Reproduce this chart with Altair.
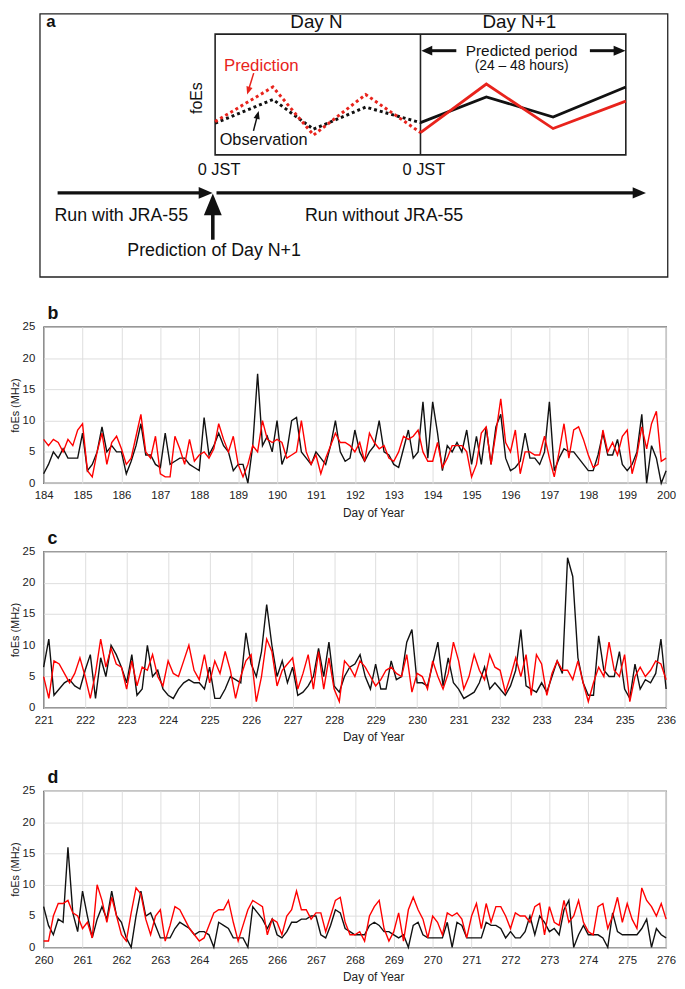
import altair as alt
import pandas as pd

FONT = "Liberation Sans"
RED = "#ff0000"
SRED = "#e8231c"

# ---------------- time-series data (3-hourly samples, MHz) ----------------
B_START, B_END = 184, 200
OBS_B = [
    1.5, 3, 5, 4, 5.5, 4, 4, 4,
    8, 2, 3, 5, 9, 5, 6, 5,
    5, 1.5, 3.5, 6, 9.5, 4.5, 4.5, 3,
    2.5, 8, 3, 3.5, 4, 4, 3, 2.5,
    2, 10.5, 4.5, 6, 8, 6, 5, 2,
    3, 3, 0, 6, 17.5, 6, 7.5, 5,
    10, 3, 5, 10, 10.5, 5, 4, 3,
    5, 4, 3, 6, 10, 5, 3.5, 4,
    8.5, 5, 3.5, 5, 6, 10, 5, 4.5,
    3, 2.5, 5.5, 8.5, 4, 5, 13, 4,
    13, 8, 2, 6, 5, 6.5, 5, 8.5,
    3, 7.5, 3, 9, 3, 9, 11, 4,
    2, 2.5, 3.5, 8, 4, 4, 3, 5,
    13, 2, 4, 5.5, 5, 5, 4, 3,
    2, 2, 4.5, 8, 4.5, 4.5, 7, 3,
    2, 3, 5, 11, 0, 6, 4, 0,
    2,
]
PRED_B = [
    7, 6, 7, 6.5, 5, 7, 6, 8.5,
    9.5, 2, 1, 5, 8, 3, 6.5, 7.5,
    5.5, 3, 4, 7.5, 11, 5, 4, 7.5,
    1.5, 1, 1, 7.5, 5.5, 3, 7, 3.5,
    4.5, 5, 4, 5.5, 9.5, 7, 5, 7.5,
    3, 1, 3, 6, 5, 10, 7, 6.5,
    7, 6.5, 4, 4.5, 5, 10, 5, 3,
    4.5, 1.5, 4, 6, 8, 6.5, 6.5, 6,
    5, 6.5, 3.5, 8, 6.5, 5.5, 6, 4,
    3.5, 5, 7.5, 7, 7.5, 8.5, 5, 3.5,
    3.5, 6.5, 2.5, 4, 6, 6, 6, 5,
    1, 3, 8, 9, 3, 8, 13.5, 6.5,
    5, 8.5, 1.5, 5, 5, 4.5, 4.5, 7.5,
    4, 1, 5, 9.5, 4, 8.5, 9, 7,
    4.5, 2.5, 3, 8.5, 5, 6.5, 4.5, 7.5,
    8.5, 1.5, 4.5, 9, 5.5, 9.5, 11.5, 3.5,
    4,
]

C_START, C_END = 221, 236
OBS_C = [
    6.5, 11, 2, 3, 4, 4.5, 3.5, 3,
    6, 8.5, 1.5, 8, 5, 10, 8.5, 6.5,
    4, 8.5, 2, 3, 10, 5, 6, 3,
    2, 1.5, 3, 4, 4.5, 4, 4, 3,
    6.5, 1.5, 1.5, 3, 5, 4.5, 4, 12,
    7, 5, 9, 16.5, 10, 5, 7.5, 4,
    6.5, 2, 2.5, 3.5, 5, 9.5, 5, 10.5,
    3.5, 2.5, 5, 6.5, 7, 8.5, 5, 3,
    7, 3, 3, 7.5, 4.5, 5, 10.5, 12.5,
    4, 4, 3.5, 7, 10.5, 3.5, 8, 4,
    3, 1.5, 2, 2.5, 4, 6.5, 3, 4,
    3, 2, 3.5, 6, 12.5, 3.5, 3, 2.5,
    4, 2.5, 5, 7.5, 5.5, 24, 21, 8,
    4, 2, 2, 11.5, 6, 5, 5, 9,
    3, 1.5, 7, 3, 4.5, 4, 5.5, 11,
    3,
]
PRED_C = [
    5, 1.5, 7.5, 7, 5.5, 4, 5.5, 8,
    5, 1.5, 5.5, 11, 6.5, 9.5, 7, 6.5,
    3, 7.5, 3.5, 6.5, 6, 8.5, 5, 3.5,
    7.5, 5.5, 5, 7.5, 10, 6, 4.5, 8.5,
    4, 7.5, 5.5, 9, 6, 1.5, 5, 7.5,
    8.5, 1, 5, 11, 9, 3.5, 6, 7,
    8, 3, 5.5, 8.5, 3, 9, 3, 8,
    3, 1, 7.5, 6.5, 5, 7.5, 6.5, 5,
    3.5, 4.5, 6, 6.5, 5.5, 5, 8.5, 2.5,
    5.5, 5, 3, 7.5, 5, 3, 5.5, 10.5,
    7.5, 3, 5, 8.5, 6, 4.5, 8.5, 6.5,
    6, 2.5, 5, 8, 5, 8.5, 2, 8.5,
    7, 2, 5.5, 7.5, 6, 6, 4.5, 7.5,
    4, 1, 4, 6.5, 5, 10.5, 6, 5,
    8.5, 1, 5, 6.5, 5, 6, 7.5, 7,
    4.5,
]

D_START, D_END = 260, 276
OBS_D = [
    6.5, 3.5, 2, 4.5, 4, 16, 5.5, 2.5,
    9, 5, 1.5, 4.5, 6.5, 4.5, 9, 5,
    4, 1.5, 0, 5, 9, 5, 5.5, 3.5,
    1.5, 1.5, 1.5, 3, 4, 3.5, 3, 2,
    2.5, 2.5, 2, 0, 4, 3.5, 3, 1.5,
    1.5, 1.5, 0, 6.5, 5.5, 4.5, 3, 4.5,
    2, 1.5, 2.5, 4, 4, 4.5, 4.5, 5,
    5, 2, 1.5, 3.5, 6, 5.5, 3, 2.5,
    2, 2, 2, 3.5, 4, 3.5, 2.5, 2.5,
    2, 1.5, 2, 0, 3.5, 4, 2, 1.5,
    1.5, 1.5, 1.5, 4, 0, 4, 3.5, 1.5,
    1.5, 1.5, 1.5, 4, 3.5, 3.5, 3, 1.5,
    2.5, 1.5, 1.5, 2.5, 5, 2, 5, 4,
    2.5, 3, 2, 6, 7.5, 0, 2, 3.5,
    2, 2, 2, 1.5, 0, 5.5, 2.5, 2,
    2, 2, 2, 3, 4.5, 0, 3, 2,
    1.5,
]
PRED_D = [
    1, 1, 5, 7, 7, 7.5, 5.5, 5,
    3, 4, 1.5, 10, 7.5, 4, 8, 5,
    2, 1, 5.5, 9.5, 8.5, 4.5, 2, 5,
    6, 1, 3.5, 6.5, 6, 4.5, 3, 2,
    1, 1.5, 3.5, 5.5, 6, 6, 7.5, 4,
    1, 3.5, 6, 7.5, 7, 6.5, 2, 4.5,
    4, 2, 5, 6, 9, 6, 6, 4.5,
    5.5, 5.5, 2.5, 5, 7.5, 8, 4, 2,
    2, 2.5, 1, 5, 6.5, 7.5, 3, 1,
    2.5, 5.5, 1, 6, 8, 6, 4.5, 1.5,
    5, 4, 2, 5.5, 5, 5.5, 4.5, 1.5,
    5, 7, 3, 7, 4, 6.5, 6.5, 5,
    3, 5.5, 5, 5, 4, 6.5, 7, 2,
    6.5, 4, 3.5, 7.5, 4, 5, 7.5, 4,
    2.5, 2, 6.5, 7, 3, 5, 8, 4,
    7, 4.5, 3, 9.5, 7.5, 6.5, 5, 7,
    4.5,
]
Y_TICKS = [0, 5, 10, 15, 20, 25]

# ---------------- schematic (panel a) data: hours from Day N 0 JST ----------------
HOURS_N = [0, 6.75, 11.5, 17.6, 24]
OBS_N = [119.3, 95.3, 125.3, 103, 118.7]
PRED_N = [117.7, 82.7, 131.3, 90.3, 128.7]
HOURS_N1 = [24, 31.7, 39.5, 48]
OBS_N1 = [118.7, 92.7, 113, 82.7]
PRED_N1 = [128.7, 79.7, 124.7, 97]

A_XDOM = [-20.044, 52.71]
A_YDOM = [8, 292.3]
PW = 629
PH = 158


def ts_df(start, obs, pred):
    rows = []
    for i, v in enumerate(obs):
        rows.append({"day": start + i / 8, "foEs": v, "series": "Observation"})
    for i, v in enumerate(pred):
        rows.append({"day": start + i / 8, "foEs": v, "series": "Prediction"})
    return pd.DataFrame(rows)


def ts_panel(letter, start, end, obs, pred, spacer=False):
    df = ts_df(start, obs, pred)
    x = alt.X(
        "day:Q",
        scale=alt.Scale(domain=[start, end], nice=False, zero=False),
        axis=alt.Axis(
            values=list(range(start, end + 1)), format="d", title="Day of Year",
            grid=True, gridColor="#dedede", gridWidth=1, ticks=False, domain=False,
            labelFont=FONT, labelFontSize=11.5, labelColor="#222", labelPadding=7,
            labelFlush=False, labelOverlap=False,
            titleFont=FONT, titleFontSize=12, titleFontWeight="normal", titleColor="#222",
            titlePadding=6, titleX=333,
        ),
    )
    y = alt.Y(
        "foEs:Q",
        scale=alt.Scale(domain=[0, 25], nice=False),
        axis=alt.Axis(
            values=Y_TICKS, title="foEs (MHz)", grid=True, gridColor="#dedede",
            ticks=False, domain=False, labelFont=FONT, labelFontSize=11.5,
            labelColor="#222", labelPadding=9, labelFlush=False,
            titleFont=FONT, titleFontSize=11, titleFontWeight="normal",
            titleColor="#222", titlePadding=2,
        ),
    )
    base = alt.Chart(df).encode(x=x, y=y)
    obs_line = base.transform_filter(alt.datum.series == "Observation").mark_line(
        color="#111", strokeWidth=1.4)
    pred_line = base.transform_filter(alt.datum.series == "Prediction").mark_line(
        color=RED, strokeWidth=1.4)
    lab = alt.Chart(pd.DataFrame({"t": [letter]})).mark_text(
        font=FONT, fontSize=18, fontWeight="bold", align="left", baseline="alphabetic",
        color="#111",
    ).encode(text="t:N", x=alt.value(4), y=alt.value(-8))
    layers = [obs_line, pred_line, lab]
    if spacer:
        sp = alt.Chart(pd.DataFrame({"t": [0]})).mark_rule(opacity=0).encode(
            x=alt.value(10), y=alt.value(-37), y2=alt.value(-30))
        layers.append(sp)
    return alt.layer(*layers).properties(
        width=PW, height=PH, view=alt.ViewBackground(stroke="#111", strokeWidth=1.2))


# ---------------- panel a ----------------
ax = alt.Scale(domain=A_XDOM, nice=False, zero=False)
ay = alt.Scale(domain=A_YDOM, nice=False, zero=False, reverse=True)


def X(f):
    return alt.X(f, scale=ax, axis=None)


def Y(f):
    return alt.Y(f, scale=ay, axis=None)


boxes = pd.DataFrame({
    "x": [-20.47, 0], "x2": [52.9, 48], "y": [8.7, 29.3], "y2": [274.7, 151.3],
    "w": [1.3, 1.6],
})
box_layer = alt.Chart(boxes).mark_rect(fillOpacity=0, stroke="#222").encode(
    x=X("x:Q"), x2="x2:Q", y=Y("y:Q"), y2="y2:Q",
    strokeWidth=alt.StrokeWidth("w:Q", scale=None),
)
divider = alt.Chart(pd.DataFrame({"x": [24], "y": [29.3], "y2": [151.3]})).mark_rule(
    color="#222", strokeWidth=1.6).encode(x=X("x:Q"), y=Y("y:Q"), y2="y2:Q")

dotN = pd.DataFrame({"h": HOURS_N * 2, "v": OBS_N + PRED_N,
                     "s": ["Observation"] * 5 + ["Prediction"] * 5})
solN1 = pd.DataFrame({"h": HOURS_N1 * 2, "v": OBS_N1 + PRED_N1,
                      "s": ["Observation"] * 4 + ["Prediction"] * 4})
cscale = alt.Scale(domain=["Observation", "Prediction"], range=["#111", SRED])
dotted = alt.Chart(dotN).mark_line(strokeDash=[3, 3], strokeWidth=3, strokeCap="butt").encode(
    x=X("h:Q"), y=Y("v:Q"), color=alt.Color("s:N", scale=cscale, legend=None),
    order=alt.Order("h:Q"))
solid = alt.Chart(solN1).mark_line(strokeWidth=2.8).encode(
    x=X("h:Q"), y=Y("v:Q"), color=alt.Color("s:N", scale=cscale, legend=None),
    order=alt.Order("h:Q"))

shafts = pd.DataFrame({
    "x":  [-18.41, 0.16, -0.27, 24.74, 43.8, 4.51, 4.48],
    "x2": [-1.11, 49.58, -0.27, 28.19, 47.27, 3.93, 4.99],
    "y":  [189.7, 189.7, 201.0, 46, 46, 68.7, 127],
    "y2": [189.7, 189.7, 237.0, 46, 46, 85.0, 110],
    "w":  [3.2, 3.2, 3.6, 3, 3, 1.5, 1.5],
    "c":  ["#111", "#111", "#111", "#111", "#111", SRED, "#111"],
})
shaft_layer = alt.Chart(shafts).mark_rule().encode(
    x=X("x:Q"), x2="x2:Q", y=Y("y:Q"), y2="y2:Q",
    strokeWidth=alt.StrokeWidth("w:Q", scale=None),
    color=alt.Color("c:N", scale=None),
)

RIGHT = "M-1,-0.85L1,0L-1,0.85Z"
LEFT = "M1,-0.9L-1,0L1,0.9Z"
UP = "M0,-1L0.82,1L-0.82,1Z"
DOWN_S = "M0,1L-0.8,-1L0.8,-1Z"
UP_S = "M0,-1L0.8,1L-0.8,1Z"


def head(h, v, shape, size, color="#111", angle=0):
    return alt.Chart(pd.DataFrame({"h": [h], "v": [v]})).mark_point(
        shape=shape, size=size, filled=True, fill=color, color=color, opacity=1,
        strokeWidth=0, angle=angle,
    ).encode(x=X("h:Q"), y=Y("v:Q"))


heads = [
    head(-1.11, 189.7, RIGHT, 196),
    head(49.58, 189.7, RIGHT, 180),
    head(-0.27, 201.3, UP, 484),
    head(24.74, 46, LEFT, 121),
    head(47.27, 46, RIGHT, 144),
    head(3.88, 86.5, DOWN_S, 64, SRED, 17),
    head(4.97, 110.9, UP_S, 64, "#111", 15),
]

texts = pd.DataFrame({
    "t": ["Day N", "Day N+1", "Prediction", "Observation", "Predicted period",
          "(24 \u2013 48 hours)", "0 JST", "0 JST", "Run with JRA-55",
          "Run without JRA-55", "Prediction of Day N+1"],
    "h": [11.84, 35.55, 5.40, 5.67, 35.82, 35.82, 0.46, 24.4, -10.97, 19.75, -0.12],
    "v": [17.5, 17.5, 61.3, 136.3, 46, 62, 167, 167, 213, 213, 248],
    "fs": [19, 19, 17, 16.5, 15.5, 14, 16.5, 16.5, 18, 18, 18],
    "c": ["#111", "#111", SRED, "#111", "#111", "#111", "#111", "#111", "#111",
          "#111", "#111"],
})
text_layer = alt.Chart(texts).mark_text(font=FONT, align="center", baseline="middle").encode(
    x=X("h:Q"), y=Y("v:Q"), text="t:N",
    size=alt.Size("fs:Q", scale=None), color=alt.Color("c:N", scale=None),
)
foes = alt.Chart(pd.DataFrame({"t": ["foEs"], "h": [-2.15], "v": [94]})).mark_text(
    font=FONT, fontSize=16, angle=270, align="center", baseline="middle", color="#111",
).encode(x=X("h:Q"), y=Y("v:Q"), text="t:N")
alab = alt.Chart(pd.DataFrame({"t": ["a"], "h": [-19.2], "v": [17.5]})).mark_text(
    font=FONT, fontSize=17, fontWeight="bold", align="center", baseline="middle",
    color="#111",
).encode(x=X("h:Q"), y=Y("v:Q"), text="t:N")

panel_a = alt.layer(
    box_layer, divider, dotted, solid, shaft_layer, *heads, text_layer, foes, alab
).properties(
    width=PW, height=A_YDOM[1] - A_YDOM[0],
    view=alt.ViewBackground(strokeOpacity=0),
)

panel_b = ts_panel("b", B_START, B_END, OBS_B, PRED_B)
panel_c = ts_panel("c", C_START, C_END, OBS_C, PRED_C)
panel_d = ts_panel("d", D_START, D_END, OBS_D, PRED_D, spacer=True)

chart = alt.vconcat(panel_a, panel_b, panel_c, panel_d, spacing=9).properties(
    padding={"top": 0, "left": 0, "right": 0, "bottom": 0},
    autosize=alt.AutoSizeParams(type="pad"),
).configure(font=FONT).configure_view(stroke="#111")

chart.save("out.html", embed_options={"renderer": "svg", "actions": False})
